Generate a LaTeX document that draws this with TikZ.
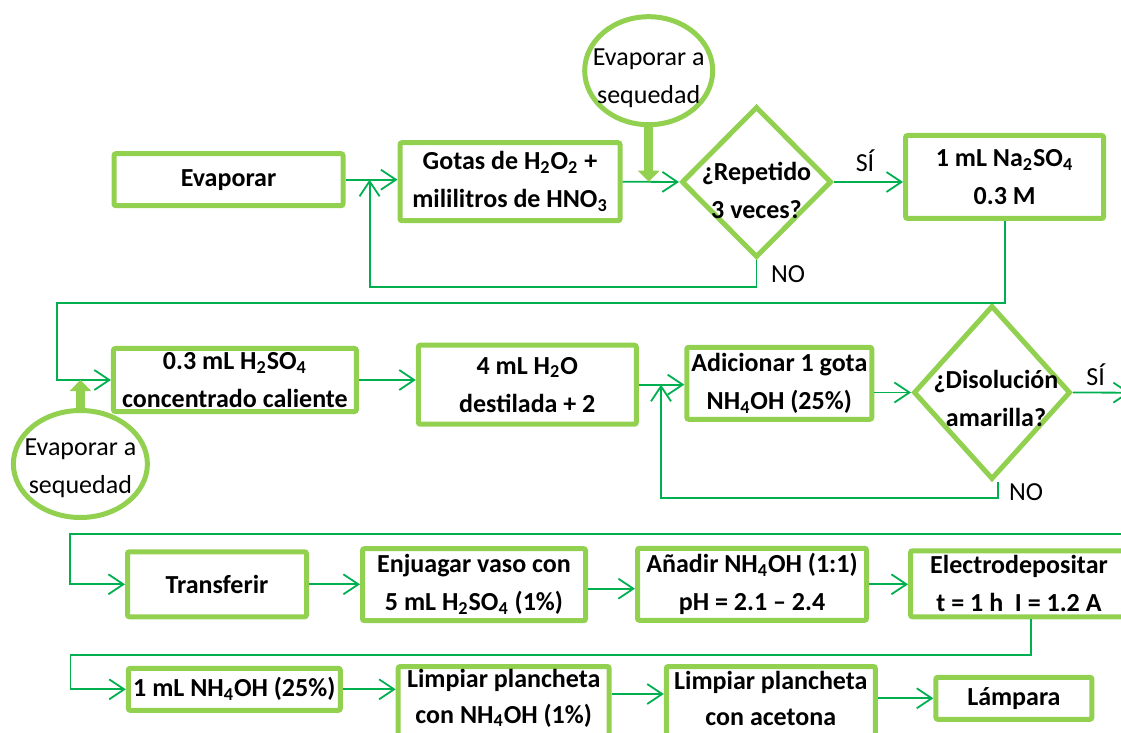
\documentclass[tikz,border=0pt]{standalone}
\usepackage{fontspec}
\setmainfont{Carlito}
\usepackage{tikz}
\usetikzlibrary{shapes.geometric, arrows.meta, positioning}
\definecolor{boxgreen}{RGB}{146,208,80}
\definecolor{linegreen}{RGB}{0,176,80}

\begin{document}
\begin{tikzpicture}[x=0.5pt, y=-0.5pt, font=\fontsize{13}{19}\selectfont]
        % Setup the style for the steps and connectors
        \tikzset{box style/.style={rectangle,
                                   draw=boxgreen,
                                   line width=2.5pt,
                                   rounded corners=1pt,
                                   inner sep=0pt,
                                   align=center,
                                   font=\fontsize{13}{19}\selectfont\bfseries}}
        \tikzset{question style/.style={diamond,
                                   draw=boxgreen,
                                   line width=2.5pt,
                                   inner sep=0pt}}
        \tikzset{dry style/.style={ellipse,
                                   draw=boxgreen,
                                   line width=2.5pt,
                                   inner sep=0pt}}
        \tikzset{arrow style/.style={draw=linegreen, line width=0.9pt,
                                   -{Straight Barb[length=7.5pt,width=10pt]}}}
        \tikzset{thick arrow style/.style={draw=boxgreen, line width=4.5pt,
                                   -{Triangle[length=5.5pt,width=10.5pt]}}}

        \useasboundingbox (0,0) rectangle (1121,733);
        \clip (0,0) rectangle (1121,733);

        % Draw the steps
        \node[box style, minimum width=114.5pt, minimum height=26pt] at (228.5,179.7) (evap) {Evaporar};
        \node[box style, minimum width=110pt, minimum height=39pt] at (510,181.7) (gotas) {Gotas de H\textsubscript{2}O\textsubscript{2} +\\mililitros de HNO\textsubscript{3}};
        \node[question style, minimum width=75pt, minimum height=75.5pt,
              label={[yshift=-4pt, align=center, font=\fontsize{13}{19}\selectfont\bfseries]center:¿Repetido\\3 veces?}] at (756.5,182) (repetido) {};
        \node[dry style, minimum width=64pt, minimum height=54pt,
              label={[yshift=-4pt, align=center]center:Evaporar a\\sequedad}] at (648.7,70.7) (secoA) {};
        \node[box style, minimum width=99pt, minimum height=41.5pt] at (1004.6,177) (sulfato) {1 mL Na\textsubscript{2}SO\textsubscript{4}\\0.3 M};

        \node[box style, minimum width=121.5pt, minimum height=31.5pt] at (234.9,380) (acido) {0.3 mL H\textsubscript{2}SO\textsubscript{4}\\concentrado caliente};
        \node[dry style, minimum width=67pt, minimum height=53.5pt,
              label={[yshift=-2pt, align=center]center:Evaporar a\\sequedad}] at (80.4,464) (secoB) {};
        \node[box style, minimum width=109pt, minimum height=39.5pt] at (527.3,384.7) (agua) {4 mL H\textsubscript{2}O\\destilada + 2};
        \node[box style, minimum width=92.5pt, minimum height=36pt] at (779.3,383.3) (gota) {Adicionar 1 gota\\NH\textsubscript{4}OH (25\%)};
        \node[question style, minimum width=78.5pt, minimum height=87pt,
              label={[xshift=2pt, yshift=-3pt, align=center, font=\fontsize{13}{19}\selectfont\bfseries]center:¿Disolución\\amarilla?}] at (992,392.5) (amarilla) {};

        \node[box style, minimum width=89.5pt, minimum height=32.5pt] at (217,584.3) (transferir) {Transferir};
        \node[box style, minimum width=111.5pt, minimum height=36pt] at (474,584.7) (enjuagar) {Enjuagar vaso con\\5 mL H\textsubscript{2}SO\textsubscript{4} (1\%)};
        \node[box style, minimum width=114.5pt, minimum height=36pt] at (752,584.3) (anadir) {Añadir NH\textsubscript{4}OH (1:1)\\pH = 2.1 – 2.4};
        \node[box style, minimum width=108.5pt, minimum height=33pt] at (1019,583.8) (electro) {Electrodepositar\\t = 1 h\ \ I = 1.2 A};

        \node[box style, minimum width=106pt, minimum height=21pt] at (234.3,689.3) (amonio) {1 mL NH\textsubscript{4}OH (25\%)};
        \node[box style, minimum width=105.5pt, minimum height=37.5pt,
              label={[yshift=3pt, align=center, font=\fontsize{13}{18}\selectfont\bfseries]center:Limpiar plancheta\\con NH\textsubscript{4}OH (1\%)}] at (503.7,704) (limpiarA) {};
        \node[box style, minimum width=104.5pt, minimum height=37.5pt,
              label={[yshift=3pt, align=center, font=\fontsize{13}{18}\selectfont\bfseries]center:Limpiar plancheta\\con acetona}] at (770.8,704) (limpiarB) {};
        \node[box style, minimum width=78pt, minimum height=21pt] at (1013.9,698.3) (lampara) {Lámpara};

        % Answers
        \node at (865,161) (siA) {SÍ};
        \node at (788,274) (noA) {NO};
        \node at (1095.7,375) (siB) {SÍ};
        \node at (1026,491.7) (noB) {NO};

        % Bends of the connectors
        \coordinate (loopA) at (369.6,287);
        \coordinate (turnA) at (57,302.7);
        \coordinate (loopB) at (661,498.3);
        \coordinate (exitR) at (1130,392.7);
        \coordinate (enterR) at (1130,534);
        \coordinate (turnB) at (69.6,534);
        \coordinate (turnC) at (70.4,655);

        % Connect the steps with arrows
        \draw[arrow style] (evap.east) -- (evap.east -| gotas.west);
        \draw[arrow style] (gotas.east) -- (repetido.west);
        \draw[arrow style] (repetido.east) -- (repetido.east -| sulfato.west);
        \draw[arrow style] (repetido.south) |- (loopA) -- (loopA |- evap.east);
        \draw[arrow style] (sulfato.south) |- (turnA) |- (acido.west);
        \draw[arrow style] (acido.east) -- (acido.east -| agua.west);
        \draw[arrow style] (agua.east) -- (agua.east -| gota.west);
        \draw[arrow style] (amarilla.west -| gota.east) -- (amarilla.west);
        \draw[arrow style] ([xshift=3pt]amarilla.south) |- (loopB) -- (loopB |- agua.east);
        \draw[arrow style] (amarilla.east) -- (exitR);
        \draw[arrow style] (enterR) -- (turnB) |- (transferir.west);
        \draw[arrow style] (transferir.east) -- (transferir.east -| enjuagar.west);
        \draw[arrow style] ([yshift=-2pt]enjuagar.east) -- ([yshift=-2pt]enjuagar.east -| anadir.west);
        \draw[arrow style] (anadir.east) -- (anadir.east -| electro.west);
        \draw[arrow style] ([xshift=6pt]electro.south) |- (turnC) |- (amonio.west);
        \draw[arrow style] (amonio.east) -- (amonio.east -| limpiarA.west);
        \draw[arrow style] ([yshift=5pt]limpiarA.east) -- ([yshift=5pt]limpiarB.west);
        \draw[arrow style] (lampara.west -| limpiarB.east) -- (lampara.west);

        % Evaporate to dryness
        \draw[thick arrow style] (secoA.south) -- (secoA.south |- gotas.east);
        \draw[thick arrow style] (secoB.north) -- (secoB.north |- acido.west);
\end{tikzpicture}
\end{document}
